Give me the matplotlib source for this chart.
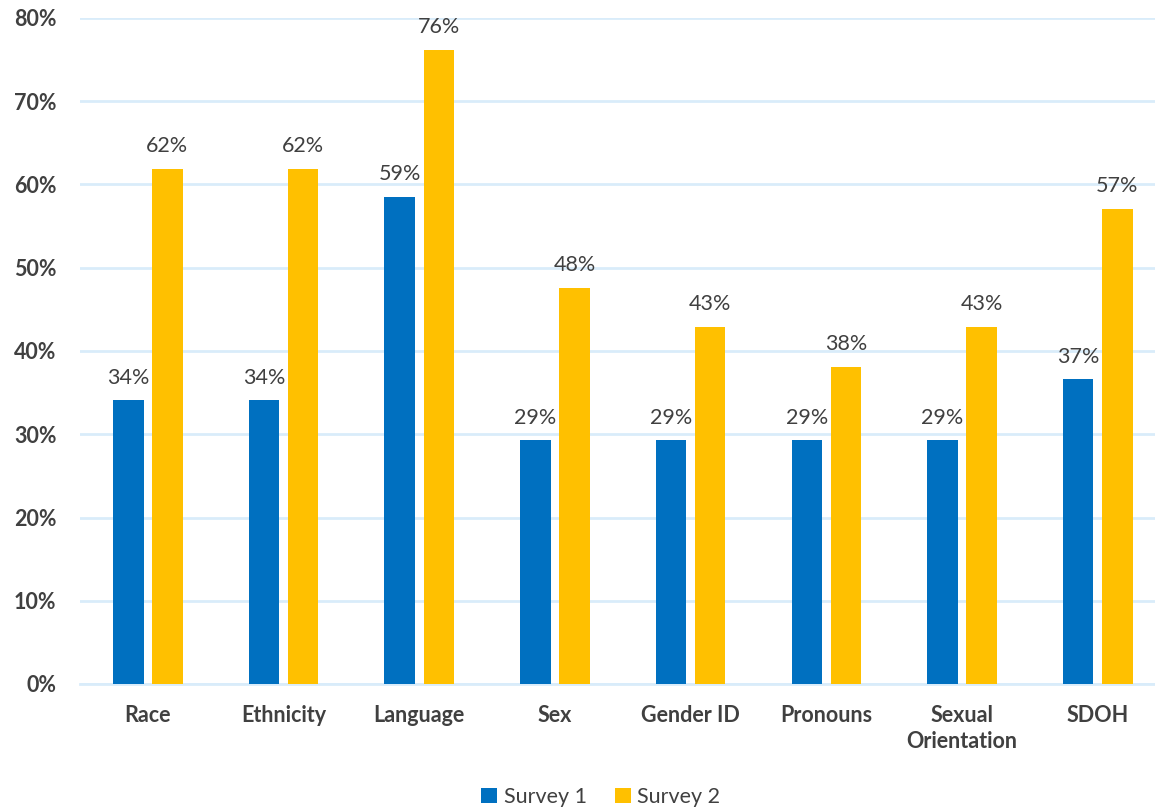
import matplotlib
matplotlib.use("Agg")
import matplotlib.pyplot as plt
import numpy as np
from matplotlib.ticker import FuncFormatter

categories = ["Race", "Ethnicity", "Language", "Sex", "Gender ID", "Pronouns",
              "Sexual\nOrientation", "SDOH"]
survey1 = [34.1, 34.1, 58.5, 29.3, 29.3, 29.3, 29.3, 36.6]
survey2 = [61.9, 61.9, 76.2, 47.6, 42.9, 38.1, 42.9, 57.1]
labels1 = ["34%", "34%", "59%", "29%", "29%", "29%", "29%", "37%"]
labels2 = ["62%", "62%", "76%", "48%", "43%", "38%", "43%", "57%"]
yticks = [0, 10, 20, 30, 40, 50, 60, 70, 80]

plt.rcParams['font.family'] = ['Lato', 'DejaVu Sans']
W, H = 1155, 809
fig = plt.figure(figsize=(W/100, H/100), dpi=100)
left = 80 / W
right = 1165.6 / W
bottom = 1 - 684 / H
top = 1 - 18 / H
ax = fig.add_axes([left, bottom, right - left, top - bottom])

x = np.arange(len(categories))
bw = 0.225
off = 0.144
blue = "#0070C0"
yellow = "#FFC000"
txt = "#404040"
grid = "#D9ECFA"

b1 = ax.bar(x - off, survey1, bw, color=blue, label="Survey 1", zorder=3)
b2 = ax.bar(x + off, survey2, bw, color=yellow, label="Survey 2", zorder=3)

for bars, labs in ((b1, labels1), (b2, labels2)):
    for r, l in zip(bars, labs):
        ax.annotate(l, (r.get_x() + r.get_width()/2, r.get_height()),
                    xytext=(0, 9), textcoords="offset points",
                    ha="center", va="bottom", fontsize=15.5, color=txt)

ax.set_xlim(-0.5, len(categories) - 0.5)
ax.set_ylim(0, 80)
ax.set_yticks(yticks)
ax.yaxis.set_major_formatter(FuncFormatter(lambda v, p: f"{int(v)}%"))
ax.set_xticks(x)
ax.set_xticklabels(categories, linespacing=1.3)
ax.grid(axis="y", color=grid, linewidth=2, zorder=0)
for s in ["top", "right", "left"]:
    ax.spines[s].set_visible(False)
ax.spines["bottom"].set_color(grid)
ax.spines["bottom"].set_linewidth(2)
ax.tick_params(axis="both", length=0)
ax.tick_params(axis="y", pad=17, labelsize=15.5, labelcolor=txt)
ax.tick_params(axis="x", pad=15, labelsize=15.5, labelcolor=txt)
for t in ax.get_yticklabels() + ax.get_xticklabels():
    t.set_fontweight("bold")

fig.legend(handles=[b1, b2], loc="center", bbox_to_anchor=(0.52, 1 - 797 / H),
           ncol=2, frameon=False, fontsize=15.5, handlelength=0.75, handleheight=0.75,
           handletextpad=0.3, columnspacing=1.3, labelcolor=txt)

fig.savefig("out.png", dpi=100)
